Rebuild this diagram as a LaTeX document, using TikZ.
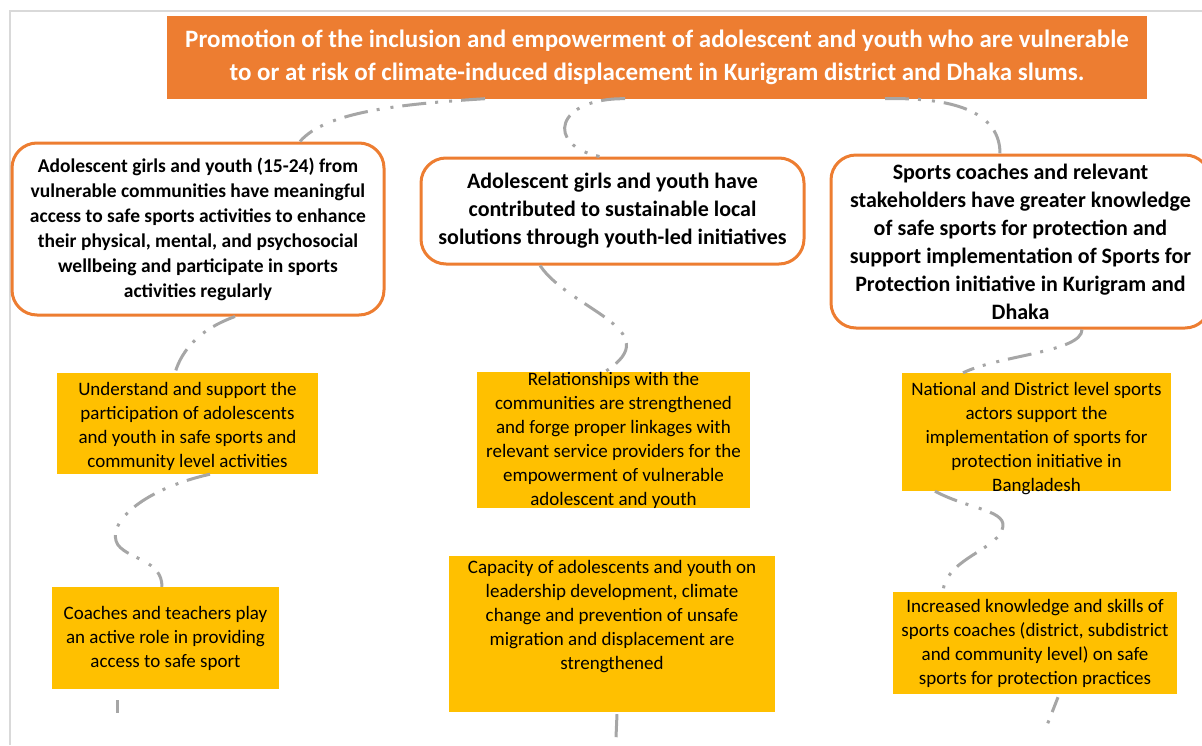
\documentclass[tikz,border=0pt]{standalone}
\usepackage{fontspec}
\setmainfont{Carlito}
\usetikzlibrary{positioning}
\definecolor{goalorange}{RGB}{237,125,49}
\definecolor{outyellow}{RGB}{255,192,0}
\definecolor{linkgray}{RGB}{166,166,166}
\definecolor{framegray}{RGB}{217,217,217}

\begin{document}
\begin{tikzpicture}[
    x=1pt, y=-1pt,
    goal/.style={fill=goalorange, text=white, font=\bfseries\fontsize{25}{33}\selectfont, align=center, inner sep=0pt},
    outcome/.style={draw=goalorange, line width=3pt, fill=white, rounded corners=25pt, align=center, inner sep=0pt},
    outbox/.style={fill=outyellow, text=black, font=\fontsize{19}{24}\selectfont, align=flush center, inner sep=0pt},
    linkline/.style={draw=linkgray, line width=3pt, dash pattern=on 24pt off 9pt on 3pt off 11pt on 3pt off 9pt}
]
    \useasboundingbox (0,0) rectangle (1202,745);
    \draw[framegray, line width=2pt] (10,745) -- (10,11) -- (1202,11);

    \node[goal, minimum width=980pt, minimum height=83pt] (impact) at (657,57)
        {Promotion of the inclusion and empowerment of adolescent and youth who are vulnerable\\
         to or at risk of climate-induced displacement in Kurigram district and Dhaka slums.};

    \node[outcome, minimum width=372pt, minimum height=172pt, font=\bfseries\fontsize{19.5}{25}\selectfont] (girls) at (198,229)
        {Adolescent girls and youth (15-24) from\\ vulnerable communities have meaningful\\
         access to safe sports activities to enhance\\ their physical, mental, and psychosocial\\
         wellbeing and participate in sports\\ activities regularly};
    \node[outcome, minimum width=383pt, minimum height=106pt, font=\bfseries\fontsize{22}{28}\selectfont] (youthled) at (612.5,211)
        {Adolescent girls and youth have\\ contributed to sustainable local\\ solutions through youth-led initiatives};
    \node[outcome, minimum width=379pt, minimum height=173pt, font=\bfseries\fontsize{22}{28}\selectfont] (coaches) at (1020.5,241.5)
        {Sports coaches and relevant\\ stakeholders have greater knowledge\\ of safe sports for protection and\\
         support implementation of Sports for\\ Protection initiative in Kurigram and\\ Dhaka};

    \node[outbox, text width=261pt, text height=22pt, text depth=79pt] (access) at (187.5,423.5)
        {Understand and support the\\ participation of adolescents\\ and youth in safe sports and\\ community level activities};
    \node[outbox, minimum width=227pt, minimum height=102pt] (teachers) at (165.5,638)
        {Coaches and teachers play\\ an active role in providing\\ access to safe sport};
    \node[outbox, minimum width=273pt, minimum height=136pt] (linkages) at (613.5,440)
        {Relationships with the\\ communities are strengthened\\ and forge proper linkages with\\
         relevant service providers for the\\ empowerment of vulnerable\\ adolescent and youth};
    \node[outbox, text width=326pt, inner ysep=4pt, text height=13pt, text depth=135pt] (capacity) at (612,634)
        {Capacity of adolescents and youth on\\ leadership development, climate\\ change and prevention of unsafe\\
         migration and displacement are\\ strengthened};
    \node[outbox, text width=269pt, text height=22pt, text depth=96pt] (actors) at (1036.5,432)
        {National and District level sports\\ actors support the\\ implementation of sports for\\
         protection initiative in\\ Bangladesh};
    \node[outbox, minimum width=284pt, minimum height=102pt] (skills) at (1035,643)
        {Increased knowledge and skills of\\ sports coaches (district, subdistrict\\ and community level) on safe\\
         sports for protection practices};

    \draw[linkline] ([xshift=-172pt]impact.south) .. controls (400,104) and (325,112) .. ([xshift=102pt]girls.north);
    \draw[linkline] ([xshift=-32pt]impact.south) .. controls (555,98) and (545,145) .. ([xshift=-13pt]youthled.north);
    \draw[linkline] ([xshift=228pt]impact.south) .. controls (960,97) and (1000,115) .. ([xshift=-20.5pt]coaches.north);

    \draw[linkline] ([xshift=37pt]girls.south) .. controls (212,325) and (185,340) .. ([xshift=-12.5pt]access.north);
    \draw[linkline] ([xshift=-72.5pt]youthled.south) .. controls (570,310) and (670,330) .. ([xshift=-8.5pt]linkages.north);
    \draw[linkline] ([xshift=61.5pt]coaches.south) .. controls (1082,352) and (1000,355) .. ([xshift=-73.5pt]actors.north);

    \draw[linkline] ([xshift=22.5pt]access.south) .. controls (140,490) and (105,525) .. (118,545)
        .. controls (130,560) and (162,560) .. ([xshift=-3.5pt]teachers.north);
    \draw[linkline] ([xshift=-101.5pt]actors.south) .. controls (970,510) and (1010,510) .. (1002,530)
        .. controls (995,550) and (945,560) .. ([xshift=-92pt]skills.north);

    \draw[linkline] ([xshift=-48.5pt,yshift=-11pt]teachers.south) -- ++(0,13);
    \draw[linkline] ([xshift=5pt,yshift=-2pt]capacity.south) -- ++(-1,23);
    \draw[linkline, dash phase=8pt] ([xshift=23pt,yshift=-3pt]skills.south) -- ++(-11,28);
\end{tikzpicture}
\end{document}
